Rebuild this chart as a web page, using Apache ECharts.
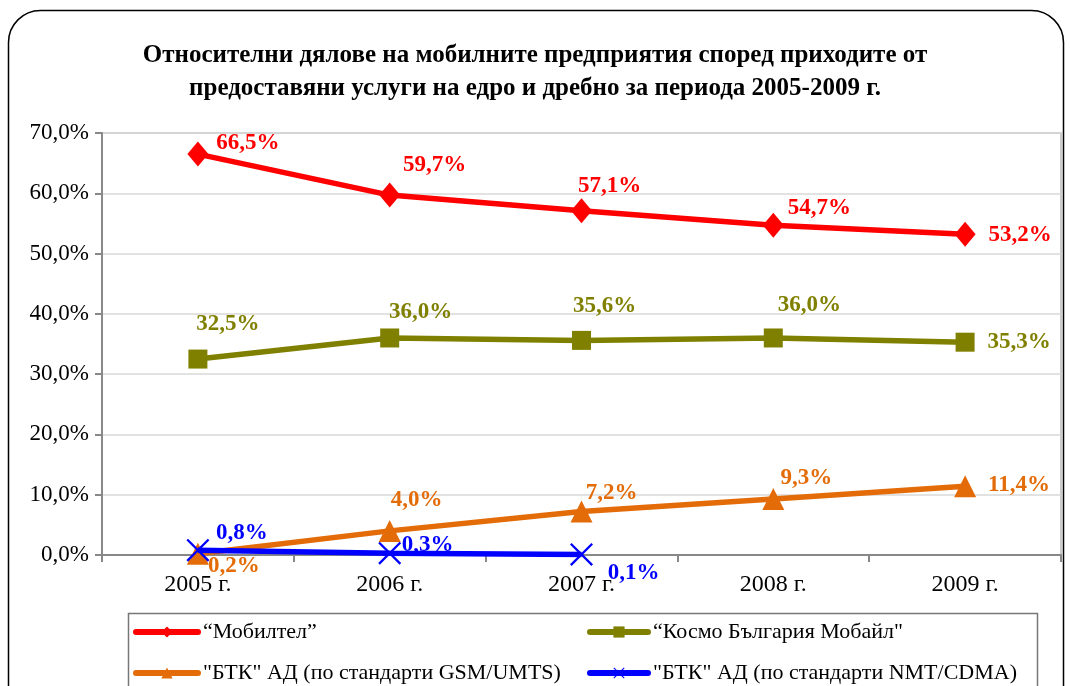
<!DOCTYPE html>
<html><head><meta charset="utf-8">
<script src="https://cdn.jsdelivr.net/npm/echarts@6/dist/echarts.min.js"></script>
<style>html,body{margin:0;padding:0;background:#fff}#c{width:1070px;height:686px}</style>
</head><body><div id="c"></div>
<script>
const categories = ['2005 г.', '2006 г.', '2007 г.', '2008 г.', '2009 г.'];
const mobiltel = [66.5, 59.7, 57.1, 54.7, 53.2];
const kosmo = [32.5, 36.0, 35.6, 36.0, 35.3];
const btkGsm = [0.2, 4.0, 7.2, 9.3, 11.4];
const btkNmt = [0.8, 0.3, 0.1, null, null];
const seriesNames = ['“Мобилтел”', '“Космо България Мобайл"', '"БТК" АД (по стандарти GSM/UMTS)', '"БТК" АД (по стандарти NMT/CDMA)'];
const yTicks = { min: 0, max: 70, interval: 10 };

// label offsets (styling only)
const offMob = [[50, -11], [45, -30], [28, -25], [46, -17], [55, 1]];
const offKos = [[30, -35], [31, -26], [23, -34], [36, -33], [54, 0]];
const offGsm = [[36, 12], [27, -31], [30, -19], [33, -21], [54, -1]];
const offNmt = [[44, -17], [38, -8], [52, 19], [0, 0], [0, 0]];

const SERIF = '"Liberation Serif","Times New Roman",serif';
const fmt = v => v.toFixed(1).replace('.', ',') + '%';

function build(vals, offs) {
  return vals.map((v, i) => ({ value: v, label: { offset: offs[i] } }));
}
function mk(name, vals, offs, color, symbol, size, extra) {
  return Object.assign({
    name, type: 'line', data: build(vals, offs), symbol, symbolSize: size,
    lineStyle: { color, width: 5.5 }, itemStyle: { color },
    label: { show: true, position: 'inside', color, fontFamily: SERIF, fontWeight: 'bold', fontSize: 23,
      formatter: p => p.value == null ? '' : fmt(p.value) },
    connectNulls: false, animation: false
  }, extra || {});
}
const crossPath = 'path://M0,0.7 L0.7,0 L10,9.3 L9.3,10 Z M9.3,0 L10,0.7 L0.7,10 L0,9.3 Z';
const legendText = { fontFamily: SERIF, fontSize: 22, color: '#000' };
function lg(name, left, top, w) {
  return { data: [name], left, top, itemWidth: w, itemHeight: 14, itemGap: 0, padding: 0,
    lineStyle: { width: 6, cap: 'round' }, textStyle: legendText };
}

const chart = echarts.init(document.getElementById('c'), null, { renderer: 'canvas' });
chart.setOption({
  backgroundColor: '#fff',
  animation: false,
  title: {
    text: 'Относителни дялове на мобилните предприятия според приходите от\nпредоставяни услуги на едро и дребно за периода 2005-2009 г.',
    left: 'center', top: 34,
    textStyle: { fontFamily: SERIF, fontWeight: 'bold', fontSize: 25, lineHeight: 33, color: '#000' }
  },
  graphic: [
    { type: 'rect', shape: { x: 8.5, y: 10.5, width: 1055, height: 720, r: 32 }, style: { fill: null, stroke: '#000', lineWidth: 1.5 }, z: -1 },
    { type: 'rect', shape: { x: 128.5, y: 613.5, width: 909, height: 100 }, style: { fill: null, stroke: '#777', lineWidth: 1.5 }, z: -1 }
  ],
  legend: [
    lg(seriesNames[0], 133, 621, 62),
    lg(seriesNames[2], 133, 662, 62),
    lg(seriesNames[1], 587, 621, 58),
    lg(seriesNames[3], 587, 662, 58)
  ],
  grid: { left: 102, right: 9, top: 133, bottom: 131, show: true, borderColor: '#bbb', borderWidth: 1.5, containLabel: false },
  xAxis: {
    type: 'category', data: categories, boundaryGap: true,
    axisLine: { lineStyle: { color: '#888', width: 2 } },
    axisTick: { show: true, length: 7, interval: 0, lineStyle: { color: '#888', width: 2 } },
    axisLabel: { fontFamily: SERIF, fontSize: 24, color: '#000', margin: 18 }
  },
  yAxis: {
    type: 'value', min: yTicks.min, max: yTicks.max, interval: yTicks.interval,
    axisLine: { show: true, lineStyle: { color: '#888', width: 2 } },
    axisTick: { show: true, length: 7, lineStyle: { color: '#888', width: 2 } },
    splitLine: { lineStyle: { color: '#d9d9d9', width: 1.5 } },
    axisLabel: { fontFamily: SERIF, fontSize: 23, color: '#000', margin: 13, formatter: v => fmt(v) }
  },
  series: [
    mk(seriesNames[2], btkGsm, offGsm, '#E36C09', 'triangle', 22, { z: 2 }),
    mk(seriesNames[0], mobiltel, offMob, '#FF0000', 'diamond', [21, 25], { z: 3 }),
    mk(seriesNames[1], kosmo, offKos, '#808000', 'rect', 19, { z: 3 }),
    mk(seriesNames[3], btkNmt, offNmt, '#0000FF', crossPath, 23, { z: 4 })
  ]
});
</script></body></html>
